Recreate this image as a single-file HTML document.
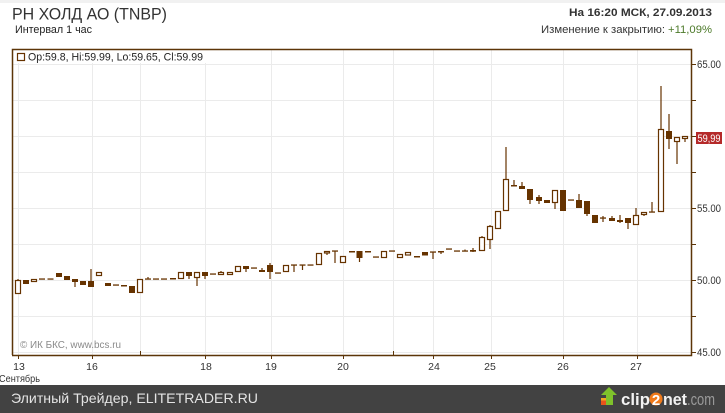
<!DOCTYPE html>
<html><head><meta charset="utf-8"><style>
html,body{margin:0;padding:0;background:#fff;}
svg{display:block;font-family:"Liberation Sans","DejaVu Sans",sans-serif;}
</style></head><body>
<svg width="725" height="413" viewBox="0 0 725 413" xmlns="http://www.w3.org/2000/svg">
<rect x="0" y="0" width="725" height="413" fill="#fff"/>
<rect x="0" y="0" width="725" height="3" fill="#f1f1f1"/>
<!-- header -->
<text x="12" y="19.5" font-size="17" fill="#333" textLength="155" lengthAdjust="spacingAndGlyphs">РН ХОЛД АО (TNBP)</text>
<text x="15" y="33" font-size="11" fill="#222" textLength="77" lengthAdjust="spacingAndGlyphs">Интервал 1 час</text>
<text x="712" y="16" font-size="11" font-weight="bold" fill="#333" text-anchor="end" textLength="143" lengthAdjust="spacingAndGlyphs">На 16:20 МСК, 27.09.2013</text>
<text x="541" y="33" font-size="11" fill="#333" textLength="124" lengthAdjust="spacingAndGlyphs">Изменение к закрытию:</text>
<text x="668" y="33" font-size="11" fill="#4d7a2a" textLength="44" lengthAdjust="spacingAndGlyphs">+11,09%</text>
<!-- grid -->
<g stroke="#ebebeb" stroke-width="1">
<path d="M12 64.5H692M12 100.5H692M12 136.5H692M12 172.5H692M12 208.5H692M12 244.5H692M12 280.5H692M12 316.5H692M12 352.5H692"/>
<path d="M18.5 49V355M92.5 49V355M140.5 49V355M205.5 49V355M271.5 49V355M343.5 49V355M393.5 49V355M433.5 49V355M491.5 49V355M563.5 49V355M637.5 49V355"/>
</g>
<!-- legend -->
<rect x="14" y="50" width="192" height="13" fill="#fff"/>
<rect x="17.5" y="53.5" width="7" height="7" fill="#fff" stroke="#663300" stroke-width="1.2"/>
<text x="28" y="60.5" font-size="11" fill="#222" textLength="175" lengthAdjust="spacingAndGlyphs">Op:59.8, Hi:59.99, Lo:59.65, Cl:59.99</text>
<text x="20" y="348" font-size="10" fill="#8a8a8a" textLength="101" lengthAdjust="spacingAndGlyphs">© ИК БКС, www.bcs.ru</text>
<!-- frame -->
<g stroke="#5c3508" stroke-width="1.5" fill="none">
<path d="M12.5 355V49.5H691.5V355.5H12"/>
<path d="M692 64.5H696M692 100.5H696M692 136.5H696M692 172.5H696M692 208.5H696M692 244.5H696M692 280.5H696M692 316.5H696M692 352.5H696" stroke-width="1"/>
<path d="M18.5 355V359M92.5 355V359M205.5 355V359M271.5 355V359M343.5 355V359M433.5 355V359M491.5 355V359M563.5 355V359M637.5 355V359" stroke-width="1"/>
<path d="M140.5 351V355M393.5 351V355" stroke-width="1"/>
</g>
<!-- y labels -->
<g font-size="11" fill="#333">
<text x="697" y="68" textLength="24" lengthAdjust="spacingAndGlyphs">65.00</text>
<text x="697" y="212" textLength="24" lengthAdjust="spacingAndGlyphs">55.00</text>
<text x="697" y="284" textLength="24" lengthAdjust="spacingAndGlyphs">50.00</text>
<text x="697" y="356" textLength="24" lengthAdjust="spacingAndGlyphs">45.00</text>
</g>
<rect x="696" y="132" width="26" height="12" fill="#b52a2a"/>
<text x="709" y="142" font-size="11" fill="#fff" text-anchor="middle" textLength="23" lengthAdjust="spacingAndGlyphs">59,99</text>
<!-- x labels -->
<g font-size="10.5" fill="#333" text-anchor="middle">
<text x="19" y="370">13</text>
<text x="92" y="370">16</text>
<text x="206" y="370">18</text>
<text x="271" y="370">19</text>
<text x="343" y="370">20</text>
<text x="434" y="370">24</text>
<text x="490" y="370">25</text>
<text x="563" y="370">26</text>
<text x="636" y="370">27</text>
</g>
<text x="-1" y="382" font-size="10.5" fill="#333" textLength="41" lengthAdjust="spacingAndGlyphs">Сентябрь</text>
<!-- candles -->
<g stroke="#663300" stroke-width="1.2" fill="none">
<path d="M18 279V294M75 279V287M91 269V287M148 277V279M189 272V279M197 272V286M205 272V279M221 271V275M246 266V272M262 268V272M270 263V279M294 265V272M302.5 265V270M327 251V255M335 251V263M359.5 251V262M433 252V259M441 251V254M465 249.5V251M473 248V252M482 236V251M490 225V249M506 147V211M514 180V186M522 182V189M530 189V204M539 195V204M555 190V209M579 194V208M587 201V216M603 216V222M612 216V221M620 215V223M628 218V229M636 208V225M644 212V216M652 202V212M661 86V212M669 114V149M677 137V164M685 136V142"/>
</g>
<g fill="#fff" stroke="#663300" stroke-width="1.2">
<rect x="15.5" y="280.5" width="5" height="13"/>
<rect x="31.5" y="279.5" width="5" height="2"/>
<rect x="96.5" y="272.5" width="5" height="3"/>
<rect x="137.5" y="279.5" width="5" height="13"/>
<rect x="178.5" y="272.5" width="5" height="6"/>
<rect x="194.5" y="272.5" width="5" height="5"/>
<rect x="218.5" y="272.5" width="5" height="2"/>
<rect x="227.5" y="272.5" width="5" height="2"/>
<rect x="235.5" y="266.5" width="5" height="5"/>
<rect x="283.5" y="265.5" width="5" height="6"/>
<rect x="316.5" y="253.5" width="5" height="11"/>
<rect x="324.5" y="251.5" width="5" height="1.5"/>
<rect x="340.5" y="256.5" width="5" height="6"/>
<rect x="381.5" y="251.5" width="5" height="6"/>
<rect x="397.5" y="254.5" width="5" height="3"/>
<rect x="405.5" y="252.5" width="5" height="2.5"/>
<rect x="479.5" y="237.5" width="5" height="13"/>
<rect x="487.5" y="226.5" width="5" height="13"/>
<rect x="495.5" y="211.5" width="5" height="17"/>
<rect x="503.5" y="179.5" width="5" height="31"/>
<rect x="552.5" y="190.5" width="5" height="12"/>
<rect x="633.5" y="215.5" width="5" height="9"/>
<rect x="641.5" y="212.5" width="5" height="2"/>
<rect x="658.5" y="129.5" width="5" height="82"/>
<rect x="674.5" y="137.5" width="5" height="4"/>
<rect x="682.5" y="136.5" width="5" height="2"/>
</g>
<g fill="#663300">
<rect x="23" y="280" width="6" height="4"/>
<rect x="56" y="273" width="6" height="4"/>
<rect x="64" y="276" width="6" height="4"/>
<rect x="72" y="279" width="6" height="3"/>
<rect x="80" y="281" width="6" height="4"/>
<rect x="88" y="281" width="6" height="6"/>
<rect x="105" y="283" width="6" height="3"/>
<rect x="121" y="285" width="6" height="1.5"/>
<rect x="129" y="286" width="6" height="7"/>
<rect x="170" y="278" width="6" height="1.5"/>
<rect x="186" y="272" width="6" height="4"/>
<rect x="202" y="272" width="6" height="4"/>
<rect x="243" y="266" width="6" height="3"/>
<rect x="259" y="270" width="6" height="2"/>
<rect x="267" y="265" width="6" height="7"/>
<rect x="349" y="251" width="6" height="1.5"/>
<rect x="356.5" y="251" width="6" height="7"/>
<rect x="365" y="251" width="6" height="1.5"/>
<rect x="414" y="256" width="6" height="1.5"/>
<rect x="422" y="252" width="6" height="3.5"/>
<rect x="438" y="251" width="6" height="1.5"/>
<rect x="470" y="250" width="6" height="1.7"/>
<rect x="511" y="185" width="6" height="1.5"/>
<rect x="519" y="186" width="6" height="3"/>
<rect x="527" y="189" width="6" height="11"/>
<rect x="536" y="197" width="6" height="4"/>
<rect x="544" y="200" width="6" height="3"/>
<rect x="560" y="190" width="6" height="21"/>
<rect x="576" y="200" width="6" height="8"/>
<rect x="584" y="201" width="6" height="13"/>
<rect x="592" y="215" width="6" height="8"/>
<rect x="609" y="218" width="6" height="3"/>
<rect x="617" y="220" width="6" height="2"/>
<rect x="625" y="218" width="6" height="5"/>
<rect x="666" y="131" width="6" height="8"/>
<!-- dashes -->
<rect x="39" y="278.4" width="6" height="1.3"/>
<rect x="47.5" y="278.4" width="6" height="1.3"/>
<rect x="113" y="284.4" width="6" height="1.3"/>
<rect x="145" y="278.4" width="6" height="1.3"/>
<rect x="153" y="278.4" width="6" height="1.3"/>
<rect x="161" y="278.4" width="6" height="1.3"/>
<rect x="210" y="273.4" width="6" height="1.3"/>
<rect x="251" y="267.4" width="6" height="1.3"/>
<rect x="275" y="272.4" width="6" height="1.3"/>
<rect x="291" y="264.4" width="6" height="1.3"/>
<rect x="299.5" y="264.4" width="6" height="1.3"/>
<rect x="307.5" y="264.4" width="6" height="1.3"/>
<rect x="332" y="250.4" width="6" height="1.3"/>
<rect x="373" y="256.4" width="6" height="1.3"/>
<rect x="389" y="250.4" width="6" height="1.3"/>
<rect x="430" y="251.4" width="6" height="1.3"/>
<rect x="446" y="248.4" width="6" height="1.3"/>
<rect x="454" y="250.4" width="6" height="1.3"/>
<rect x="462" y="250.4" width="6" height="1.3"/>
<rect x="568" y="199.4" width="6" height="1.3"/>
<rect x="600" y="217.4" width="6" height="1.3"/>
<rect x="649" y="211.4" width="6" height="1.3"/>
</g>
<!-- footer -->
<rect x="0" y="385" width="725" height="28" fill="#424242"/>
<text x="11" y="403" font-size="14" fill="#e4e4e4" textLength="247" lengthAdjust="spacingAndGlyphs">Элитный Трейдер, ELITETRADER.RU</text>
<!-- clip2net logo -->
<rect x="601" y="398" width="10" height="7" fill="#e8541c"/>
<rect x="601" y="398" width="10" height="2.5" fill="#f5a623"/>
<polygon points="609,387 617,395 613,395 613,405 606,405 606,395 601,395" fill="#7fc22b"/>
<text x="621" y="405" font-size="17" font-weight="bold" fill="#f2f2f2" textLength="29" lengthAdjust="spacingAndGlyphs">clip</text>
<circle cx="656" cy="399" r="6.5" fill="#f07a1a"/>
<text x="656" y="405" font-size="15" font-weight="bold" fill="#fff" text-anchor="middle">2</text>
<text x="663" y="405" font-size="17" font-weight="bold" fill="#f2f2f2" textLength="24" lengthAdjust="spacingAndGlyphs">net</text>
<text x="687" y="405" font-size="17" fill="#9a9a9a" textLength="28" lengthAdjust="spacingAndGlyphs">.com</text>
</svg>
</body></html>
